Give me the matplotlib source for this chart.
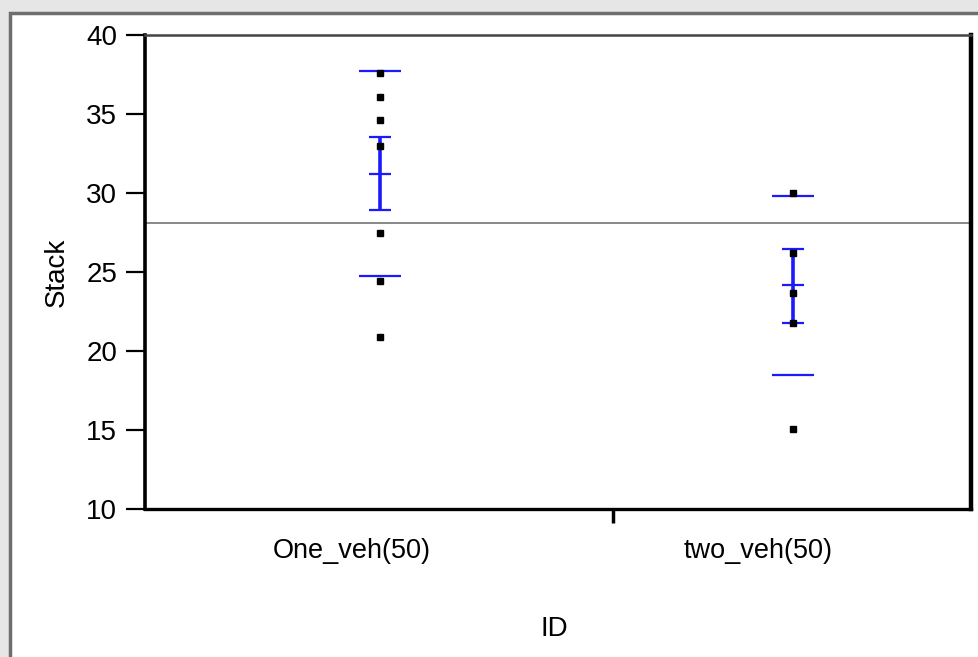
import matplotlib
matplotlib.use("Agg")
import matplotlib.pyplot as plt
from matplotlib.patches import Rectangle

# ---- data ----
categories = ["One_veh(50)", "two_veh(50)"]
one_veh_points = [37.6, 36.1, 34.6, 33.0, 27.5, 24.4, 20.9]
two_veh_points = [30.0, 26.2, 23.7, 21.75, 15.05]
group_means = [31.2, 24.2]
ci_low = [28.95, 21.8]
ci_high = [33.55, 26.45]
upper_limit = [37.7, 29.8]
lower_limit = [24.75, 18.45]
grand_mean = 28.1
y_ticks = [10, 15, 20, 25, 30, 35, 40]

plt.rcParams['font.family'] = ['Liberation Sans', 'DejaVu Sans']

W, H = 979, 657
fig = plt.figure(figsize=(W / 100, H / 100), dpi=100)
fig.patch.set_facecolor("#e6e6e6")
# inner white panel with gray frame
fig.patches.append(Rectangle((10 / W, -0.1), 1.2, (H - 13) / H + 0.1,
                             transform=fig.transFigure, facecolor="white",
                             edgecolor="#6e6e6e", linewidth=2.5, zorder=-5))

ax = fig.add_axes([145 / W, 1 - 509 / H, 826 / W, 474 / H])
ax.set_zorder(2)
ax.set_facecolor("white")
ax.set_xlim(0.431, 2.431)
ax.set_ylim(10, 40)

blue = "#1a1aff"
pts = [one_veh_points, two_veh_points]
for i, p in enumerate(pts):
    xpos = i + 1
    ax.plot([xpos] * len(p), p, linestyle="none", marker="s", markersize=4.0,
            color="black", zorder=4)
    # limit lines
    ax.hlines([upper_limit[i], lower_limit[i]], xpos - 0.05, xpos + 0.05,
              color=blue, linewidth=1.6, zorder=3)
    # CI bar
    ax.vlines(xpos, ci_low[i], ci_high[i], color=blue, linewidth=2.6, zorder=3)
    ax.hlines([ci_low[i], group_means[i], ci_high[i]], xpos - 0.027, xpos + 0.027,
              color=blue, linewidth=1.6, zorder=3)

ax.axhline(grand_mean, color="#888888", linewidth=1.4, zorder=2)

# axes styling
ax.spines["left"].set_linewidth(2.6)
ax.spines["bottom"].set_linewidth(2.4)
ax.spines["top"].set_linewidth(1.8)
ax.spines["top"].set_color("#444444")
ax.spines["right"].set_linewidth(3.2)
for s in ax.spines.values():
    s.set_zorder(5)

ax.set_yticks(y_ticks)
ax.set_yticklabels([str(v) for v in y_ticks])
ax.tick_params(axis="y", length=14, width=1.6, pad=6, labelsize=20)

# category labels sit at the quarter points of the axis
ax.set_xticks([0.932, 1.915])
ax.set_xticklabels(categories)
ax.tick_params(axis="x", which="major", length=0, pad=21, labelsize=19.5)
ax.set_xticks([1.564], minor=True)
ax.tick_params(axis="x", which="minor", length=10, width=2.5, direction="out")

ax.set_ylabel("Stack", fontsize=20)
ax.yaxis.set_label_coords(-0.091, 0.5)
ax.set_xlabel("ID", fontsize=20)
ax.xaxis.set_label_coords(0.496, -0.225)

fig.savefig("out.png", dpi=100, facecolor=fig.get_facecolor())
